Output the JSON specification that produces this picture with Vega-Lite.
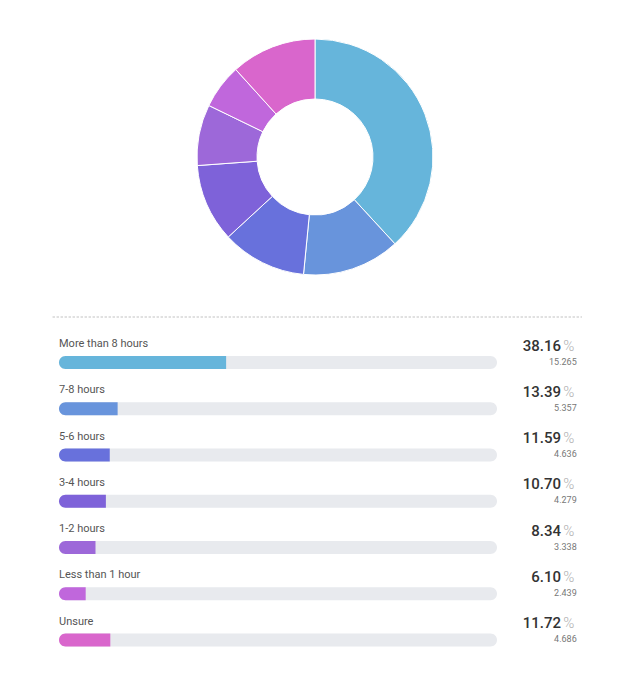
{
  "$schema": "https://vega.github.io/schema/vega-lite/v6.json",
  "padding": 0,
  "spacing": 0,
  "bounds": "flush",
  "background": "#ffffff",
  "config": {"view": {"stroke": null}, "font": "Roboto"},
  "data": {
    "values": [
      {"category": "More than 8 hours", "pct": 38.16, "count": 15265},
      {"category": "7-8 hours", "pct": 13.39, "count": 5357},
      {"category": "5-6 hours", "pct": 11.59, "count": 4636},
      {"category": "3-4 hours", "pct": 10.70, "count": 4279},
      {"category": "1-2 hours", "pct": 8.34, "count": 3338},
      {"category": "Less than 1 hour", "pct": 6.10, "count": 2439},
      {"category": "Unsure", "pct": 11.72, "count": 4686}
    ]
  },
  "transform": [
    {"window": [{"op": "row_number", "as": "idx"}]},
    {"calculate": "replace(format(datum.count, ','), ',', '.')", "as": "countLabel"}
  ],
  "vconcat": [
    {
      "width": 622,
      "height": 314,
      "mark": {"type": "arc", "outerRadius": 118, "innerRadius": 58, "stroke": "#ffffff", "strokeWidth": 1, "xOffset": 4},
      "encoding": {
        "theta": {"field": "count", "type": "quantitative", "stack": true},
        "order": {"field": "idx", "type": "quantitative"},
        "color": {
          "field": "category", "type": "nominal", "legend": null,
          "scale": {
            "domain": ["More than 8 hours", "7-8 hours", "5-6 hours", "3-4 hours", "1-2 hours", "Less than 1 hour", "Unsure"],
            "range": ["#66b5db", "#6894dc", "#6871dc", "#7e62d9", "#9d68d9", "#c067dc", "#d966cc"]
          }
        }
      }
    },
    {
      "width": 622,
      "height": 364,
      "layer": [
        {
          "mark": {"type": "rule", "color": "#e0e0e0", "strokeWidth": 1, "strokeDash": [2, 2]},
          "encoding": {
            "x": {"datum": -1.4, "type": "quantitative", "scale": {"domain": [0, 100], "range": [59, 497]}, "axis": null},
            "x2": {"datum": 119.4},
            "y": {"value": 3}
          }
        },
        {
          "encoding": {
            "y": {
              "field": "category", "type": "nominal", "axis": null,
              "scale": {
                "type": "point", "padding": 0,
                "domain": ["More than 8 hours", "7-8 hours", "5-6 hours", "3-4 hours", "1-2 hours", "Less than 1 hour", "Unsure"],
                "range": [48.5, 326]
              }
            }
          },
          "layer": [
            {
              "mark": {"type": "bar", "color": "#e8eaee", "cornerRadius": 6.5, "size": 13},
              "encoding": {
                "x": {"datum": 0, "type": "quantitative"},
                "x2": {"datum": 100}
              }
            },
            {
              "mark": {"type": "bar", "cornerRadiusTopLeft": 6.5, "cornerRadiusBottomLeft": 6.5, "size": 13},
              "encoding": {
                "x": {"field": "pct", "type": "quantitative", "stack": null},
                "x2": {"datum": 0},
                "color": {"field": "category", "type": "nominal", "legend": null}
              }
            },
            {
              "mark": {"type": "text", "align": "left", "baseline": "alphabetic", "dy": -15.5, "fontSize": 11, "color": "#555555"},
              "encoding": {"x": {"datum": 0, "type": "quantitative"}, "text": {"field": "category", "type": "nominal"}}
            },
            {
              "mark": {"type": "text", "align": "right", "baseline": "alphabetic", "dy": -12, "fontSize": 15, "fontWeight": 500, "color": "#333333"},
              "encoding": {"x": {"datum": 114.6, "type": "quantitative"}, "text": {"field": "pct", "type": "quantitative", "format": ".2f"}}
            },
            {
              "mark": {"type": "text", "align": "left", "baseline": "alphabetic", "dy": -12, "fontSize": 15, "fontWeight": 300, "color": "#b0b0b0", "text": "%"},
              "encoding": {"x": {"datum": 115.1, "type": "quantitative"}}
            },
            {
              "mark": {"type": "text", "align": "right", "baseline": "alphabetic", "dy": 2, "fontSize": 9, "color": "#777777"},
              "encoding": {"x": {"datum": 118.2, "type": "quantitative"}, "text": {"field": "countLabel", "type": "nominal"}}
            }
          ]
        }
      ]
    }
  ]
}
